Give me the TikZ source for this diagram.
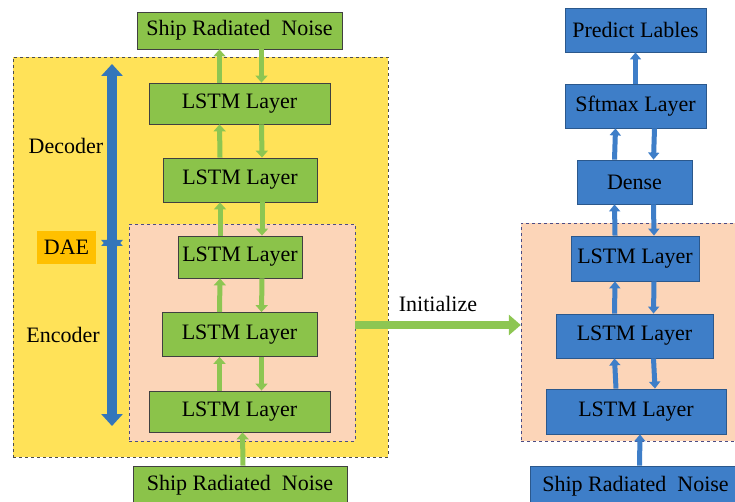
\documentclass[tikz,border=0pt]{standalone}
\usepackage{fontspec}
\setmainfont{Liberation Serif}
\usetikzlibrary{calc,positioning,arrows.meta}

\definecolor{boxgreen}{RGB}{139,195,74}
\definecolor{arrgreen}{RGB}{141,198,82}
\definecolor{boxblue}{RGB}{62,126,200}
\definecolor{daeblue}{RGB}{52,118,186}
\definecolor{dyellow}{RGB}{255,226,88}
\definecolor{peach}{RGB}{252,213,184}
\definecolor{daeorange}{RGB}{255,192,0}

\tikzset{
  layer/.style={draw=black!75,line width=0.8pt,inner sep=0pt,font=\fontsize{22}{24}\selectfont},
  glayer/.style={layer,fill=boxgreen},
  blayer/.style={layer,fill=boxblue,draw=boxblue!70!black},
  garrow/.style={draw=arrgreen,line width=5pt,-{Triangle[width=12pt,length=7pt]}},
  barrow/.style={draw=boxblue,line width=5pt,-{Triangle[width=11pt,length=7pt]}},
  plain/.style={draw=none,fill=none,font=\fontsize{22}{24}\selectfont}
}

\begin{document}
\begin{tikzpicture}[x=1pt,y=-1pt]
  \useasboundingbox (0,0) rectangle (735,502);

  % DAE block
  \node[draw=black!70,dashed,fill=dyellow,minimum width=375pt,minimum height=400pt] (daebox) at (200.5,257) {};
  \node[draw=black!45!blue!40!gray,dashed,fill=peach,minimum width=226pt,minimum height=217pt] (encL) at (242,332.5) {};

  % Layers of the autoencoder
  \node[glayer,minimum width=205pt,minimum height=37pt] (shipT) at (239.5,30.5) {Ship Radiated~ Noise};
  \node[glayer,minimum width=181pt,minimum height=41pt] (l1) at (239.5,103.5) {LSTM Layer};
  \node[glayer,minimum width=154pt,minimum height=44pt] (l2) at (240,180) {LSTM Layer};
  \node[glayer,minimum width=124pt,minimum height=42pt] (l3) at (240,257) {LSTM Layer};
  \node[glayer,minimum width=155pt,minimum height=44pt] (l4) at (239.5,334.5) {LSTM Layer};
  \node[glayer,minimum width=181pt,minimum height=41pt] (l5) at (239.5,411.5) {LSTM Layer};
  \node[glayer,minimum width=214pt,minimum height=38pt] (shipB) at (240,485) {Ship Radiated~ Noise};

  % Arrows of the autoencoder
  \draw[garrow] ($(l1.north)+(-20,0)$) -- ($(shipT.south)+(-20,0)$);
  \draw[garrow] ($(shipT.south)+(22,0)$) -- ($(l1.north)+(22,0)$);
  \draw[garrow] ($(l2.north)+(-20,0)$) -- ($(l1.south)+(-20,0)$);
  \draw[garrow] ($(l1.south)+(22,0)$) -- ($(l2.north)+(22,0)$);
  \draw[garrow] ($(l3.north)+(-20,0)$) -- ($(l2.south)+(-20,0)$);
  \draw[garrow] ($(l2.south)+(22,0)$) -- ($(l3.north)+(22,0)$);
  \draw[garrow] ($(l4.north)+(-20,0)$) -- ($(l3.south)+(-20,0)$);
  \draw[garrow] ($(l3.south)+(22,0)$) -- ($(l4.north)+(22,0)$);
  \draw[garrow] ($(l5.north)+(-20,0)$) -- ($(l4.south)+(-20,0)$);
  \draw[garrow] ($(l4.south)+(22,0)$) -- ($(l5.north)+(22,0)$);
  \draw[garrow] ($(shipB.north)+(3,0)$) -- ($(l5.south)+(3,0)$);

  % Decoder / Encoder
  \coordinate (dtop) at (112,64);
  \coordinate (dbot) at (112,426);
  \coordinate (dmidA) at (112,252);
  \coordinate (dmidB) at (112,234);
  \draw[draw=daeblue,line width=10pt,{Triangle[width=21pt,length=12pt]}-{Triangle[width=21pt,length=12pt]}] (dmidA) -- (dtop);
  \draw[draw=daeblue,line width=10pt,{Triangle[width=21pt,length=12pt]}-{Triangle[width=21pt,length=12pt]}] (dmidB) -- (dbot);
  \node[plain] (decoder) at (66,146) {Decoder};
  \node[plain] (encoder) at (63,335) {Encoder};
  \node[plain,fill=daeorange,inner sep=0pt,minimum width=59pt,minimum height=33pt] (dae) at (66.5,247.5) {DAE};

  % Classifier
  \node[draw=black!45!blue!40!gray,dashed,fill=peach,minimum width=219pt,minimum height=218pt] (encR) at (630.5,332) {};
  \node[blayer,minimum width=141pt,minimum height=44pt] (pred) at (635.5,30) {Predict Lables};
  \node[blayer,minimum width=141pt,minimum height=44pt] (soft) at (635.5,106) {Sftmax Layer};
  \node[blayer,minimum width=115pt,minimum height=44pt] (dense) at (634.5,182) {Dense};
  \node[blayer,minimum width=128pt,minimum height=45pt] (r1) at (635,258.5) {LSTM Layer};
  \node[blayer,minimum width=157pt,minimum height=44pt] (r2) at (634.5,336) {LSTM Layer};
  \node[blayer,minimum width=180pt,minimum height=45pt] (r3) at (636,411.5) {LSTM Layer};
  \node[blayer,minimum width=211pt,minimum height=40pt] (shipR) at (635.5,486) {Ship Radiated~ Noise};

  % Arrows of the classifier
  \draw[barrow] (soft) -- (pred);
  \draw[barrow] ($(dense.north)+(-20,0)$) -- ($(soft.south)+(-20,0)$);
  \draw[barrow] ($(soft.south)+(19,0)$) -- ($(dense.north)+(19,0)$);
  \draw[barrow] ($(r1.north)+(-20,0)$) -- ($(dense.south)+(-20,0)$);
  \draw[barrow] ($(dense.south)+(19,0)$) -- ($(r1.north)+(19,0)$);
  \draw[barrow] ($(r2.north)+(-20,0)$) -- ($(r1.south)+(-20,0)$);
  \draw[barrow] ($(r1.south)+(19,0)$) -- ($(r2.north)+(19,0)$);
  \draw[barrow] ($(r3.north)+(-20,0)$) -- ($(r2.south)+(-20,0)$);
  \draw[barrow] ($(r2.south)+(19,0)$) -- ($(r3.north)+(19,0)$);
  \draw[barrow] ($(shipR.north)+(4,0)$) -- ($(r3.south)+(4,0)$);

  % Initialize
  \draw[draw=arrgreen,line width=8pt,-{Triangle[width=20pt,length=12pt]}] ($(encL.east)+(0,-7.5)$) -- ($(encR.west)+(0,-7)$)
    node[pos=0.5,above=6pt,plain] (init) {Initialize};

\end{tikzpicture}
\end{document}
